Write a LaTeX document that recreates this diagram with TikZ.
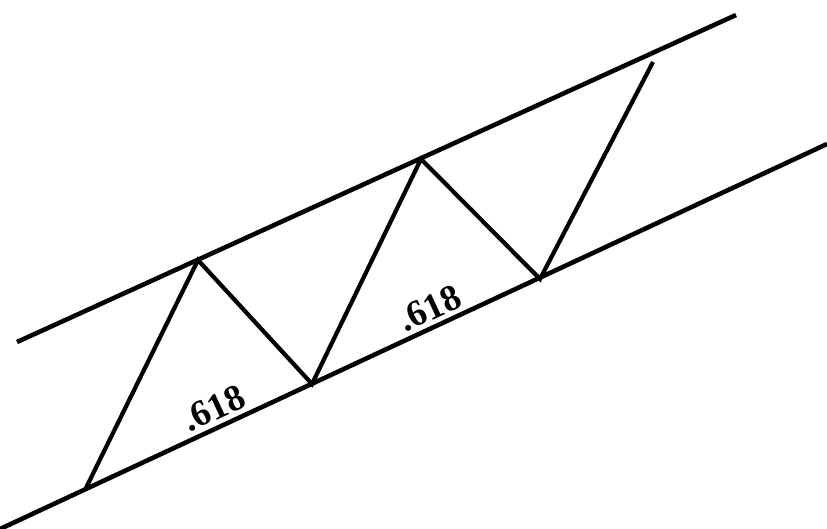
\documentclass[tikz,border=0pt]{standalone}
\usepackage{fontspec}
\setmainfont{Liberation Serif}
\usepackage{tikz}

\begin{document}
\begin{tikzpicture}[x=0.02cm, y=-0.02cm, every node/.style={font=\bfseries\fontsize{21}{21}\selectfont}]
        \useasboundingbox (0,0) rectangle (827,528);
        % channel lines
        \coordinate (upA) at (17,342);
        \coordinate (upB) at (736,15);
        \coordinate (loA) at (0,529);
        \coordinate (loB) at (827,144);
        \draw[line width=2.6pt] (upA) -- (upB);
        \draw[line width=2.6pt] (loA) -- (loB);
        % swing points
        \coordinate (p0) at (85,490);
        \coordinate (p1) at (198,260);
        \coordinate (p2) at (312,384);
        \coordinate (p3) at (421,159);
        \coordinate (p4) at (540,279);
        \coordinate (p5) at (653,62);
        \draw[line width=2.4pt, line join=miter] (p0) -- (p1) -- (p2) -- (p3) -- (p4) -- (p5);
        \node[rotate=25, inner sep=0pt, anchor=base west] (fib1) at (189,433) {.618};
        \node[rotate=25, inner sep=0pt, anchor=base west] (fib2) at (405,333) {.618};
      \end{tikzpicture}
\end{document}
